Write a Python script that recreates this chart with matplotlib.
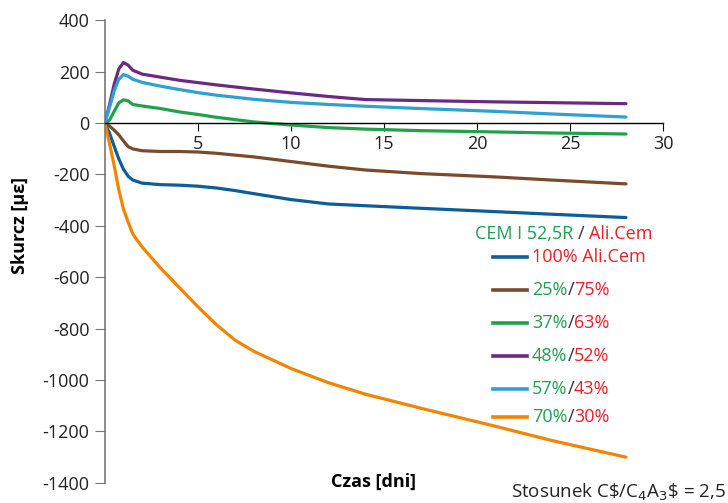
import numpy as np
import matplotlib.pyplot as plt
from matplotlib.lines import Line2D

plt.rcParams['font.family'] = ['Open Sans', 'DejaVu Sans']
plt.rcParams['axes.unicode_minus'] = False

# dane
dni = [0, 0.25, 0.5, 0.75, 1, 1.25, 1.5, 2, 3, 4, 5, 6, 7, 8, 10, 12, 14, 17, 21, 24, 28]

ali_100 = [0, -40, -90, -140, -180, -207, -222, -234, -240, -242, -246, -253, -263, -275,
           -298, -315, -322, -332, -345, -355, -368]
mix_25_75 = [0, -12, -28, -46, -70, -92, -101, -108, -111, -111, -113, -118, -125, -132,
             -150, -168, -183, -197, -210, -222, -237]
mix_37_63 = [0, 10, 45, 78, 90, 86, 72, 66, 56, 43, 33, 22, 13, 4, -8, -18, -24, -30, -35, -39, -43]
mix_48_52 = [0, 70, 150, 210, 235, 225, 205, 190, 178, 166, 157, 148, 140, 132, 117, 103, 91,
             87, 82, 79, 75]
mix_57_43 = [0, 60, 125, 170, 188, 182, 170, 158, 143, 130, 118, 108, 100, 92, 80, 72, 65,
             56, 45, 35, 23]
mix_70_30 = [0, -80, -165, -260, -335, -385, -432, -482, -565, -640, -715, -785, -845, -888,
             -955, -1010, -1055, -1110, -1180, -1235, -1300]

serie = [ali_100, mix_25_75, mix_37_63, mix_48_52, mix_57_43, mix_70_30]
kolory = ['#0b5e99', '#7a4a2c', '#23a04b', '#6a2a84', '#2fa0d2', '#f28500']
etykiety_cem = ['', '25%', '37%', '48%', '57%', '70%']
etykiety_ali = ['100% Ali.Cem', '75%', '63%', '52%', '43%', '30%']

zielony = '#1f9e52'
czerwony = '#e8212b'
FS = 13

fig = plt.figure(figsize=(7.28, 5.03), dpi=100)
ax = fig.add_axes([0.144, 0.040, 0.767, 0.920])

for y, k in zip(serie, kolory):
    ax.plot(dni, y, color=k, lw=2.3, solid_capstyle='round', solid_joinstyle='round')

ax.set_xlim(0, 30)
ax.set_ylim(-1400, 400)
ax.set_yticks(np.arange(-1400, 401, 200))
ax.set_xticks([5, 10, 15, 20, 25, 30])

ax.spines['top'].set_visible(False)
ax.spines['right'].set_visible(False)
ax.spines['bottom'].set_position(('data', 0))
ax.spines['bottom'].set_color('black')
ax.spines['bottom'].set_linewidth(1.0)
ax.spines['left'].set_color('#777777')
ax.spines['left'].set_linewidth(1.2)
ax.tick_params(axis='y', direction='out', length=7, color='#777777', labelsize=FS,
               labelcolor='#222222', pad=4)
ax.tick_params(axis='x', direction='out', length=6, color='black', labelsize=FS,
               labelcolor='#222222', pad=3)

ax.set_ylabel('Skurcz [\u03bc\u03b5]', fontsize=FS, fontweight='bold')
ax.yaxis.set_label_coords(-0.152, 0.557)
ax.yaxis.label.set_va('center')
fig.text(374 / 728, 1 - 482 / 503, 'Czas [dni]', fontsize=FS, fontweight='bold',
         ha='center', va='center')

renderer = fig.canvas.get_renderer()


def tekst_ciag(x0, y, kawalki):
    # kolejne kawałki tekstu w różnych kolorach, jeden za drugim
    x = x0
    for s, c in kawalki:
        t = fig.text(x, y, s, color=c, fontsize=FS, ha='left', va='center')
        bb = t.get_window_extent(renderer=renderer)
        x += bb.width / fig.bbox.width


# legenda
tekst_ciag(475 / 728, 1 - 234 / 503,
           [('CEM I 52,5R ', zielony), ('/ ', '#333333'), ('Ali.Cem', czerwony)])

wiersze = [257, 290, 323, 356, 389, 417]
for py, k, c, a in zip(wiersze, kolory, etykiety_cem, etykiety_ali):
    yy = 1 - py / 503
    fig.add_artist(Line2D([493 / 728, 527 / 728], [yy, yy], color=k, lw=2.6,
                          transform=fig.transFigure))
    if c:
        tekst_ciag(532 / 728, yy, [(c, zielony), ('/', '#333333'), (a, czerwony)])
    else:
        tekst_ciag(532 / 728, yy, [(a, czerwony)])

fig.text(0.997, 1 - 492 / 503, 'Stosunek C\\$/C$_4$A$_3$\\$ = 2,5', fontsize=13.5,
         color='#222222', ha='right', va='center')

fig.savefig('out.png', dpi=100)
